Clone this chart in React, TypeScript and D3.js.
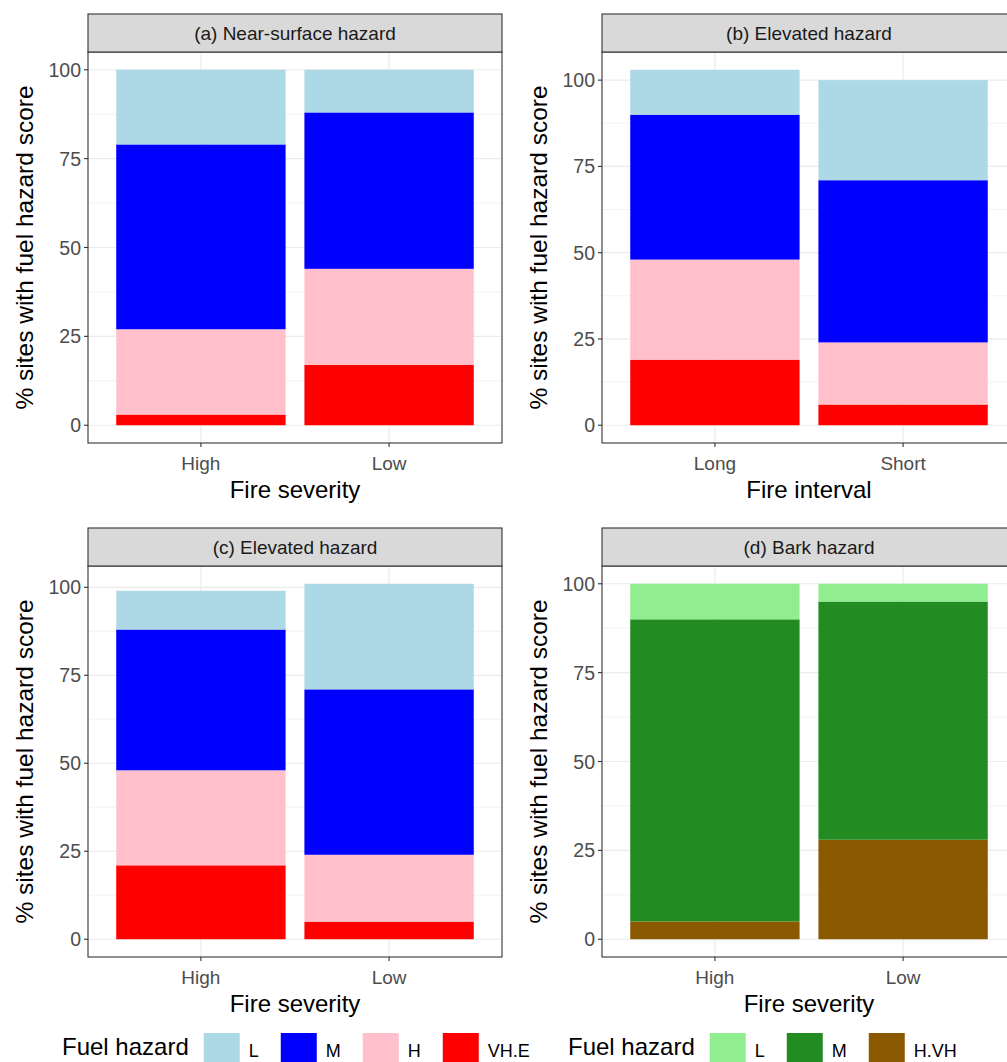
import React, { useRef, useEffect } from 'react';
import * as d3 from 'd3';

// categories
const severityCats = ['High', 'Low'];
const intervalCats = ['Long', 'Short'];

// stack keys, bottom to top
const hazardKeys = ['VH.E', 'H', 'M', 'L'];
const barkKeys = ['H.VH', 'M', 'L'];

// (a) near-surface hazard by fire severity
const nearSurfaceVHE = [3, 17];
const nearSurfaceH = [24, 27];
const nearSurfaceM = [52, 44];
const nearSurfaceL = [21, 12];

// (b) elevated hazard by fire interval
const elevIntervalVHE = [19, 6];
const elevIntervalH = [29, 18];
const elevIntervalM = [42, 47];
const elevIntervalL = [13, 29];

// (c) elevated hazard by fire severity
const elevSeverityVHE = [21, 5];
const elevSeverityH = [27, 19];
const elevSeverityM = [40, 47];
const elevSeverityL = [11, 30];

// (d) bark hazard by fire severity
const barkHVH = [5, 28];
const barkM = [85, 67];
const barkL = [10, 5];

const yTicks = [0, 25, 50, 75, 100];

const hazardColors: Record<string, string> = {
  L: '#ADD8E6', M: '#0000FF', H: '#FFC0CB', 'VH.E': '#FF0000',
};
const barkColors: Record<string, string> = {
  L: '#90EE90', M: '#228B22', 'H.VH': '#8B5A00',
};

const FONT = '"Liberation Sans", Arial, Helvetica, sans-serif';

type Panel = {
  title: string;
  xTitle: string;
  cats: string[];
  keys: string[];
  series: Record<string, number[]>;
  colors: Record<string, string>;
  x0: number; x1: number; top: number;
};

const App: React.FC = () => {
  const ref = useRef<SVGSVGElement>(null);

  useEffect(() => {
    if (!ref.current) return;
    const svg = d3.select(ref.current);
    svg.selectAll('*').remove();

    const panels: Panel[] = [
      { title: '(a) Near-surface hazard', xTitle: 'Fire severity', cats: severityCats, keys: hazardKeys,
        series: { 'VH.E': nearSurfaceVHE, H: nearSurfaceH, M: nearSurfaceM, L: nearSurfaceL },
        colors: hazardColors, x0: 88, x1: 502, top: 14 },
      { title: '(b) Elevated hazard', xTitle: 'Fire interval', cats: intervalCats, keys: hazardKeys,
        series: { 'VH.E': elevIntervalVHE, H: elevIntervalH, M: elevIntervalM, L: elevIntervalL },
        colors: hazardColors, x0: 602, x1: 1016, top: 14 },
      { title: '(c) Elevated hazard', xTitle: 'Fire severity', cats: severityCats, keys: hazardKeys,
        series: { 'VH.E': elevSeverityVHE, H: elevSeverityH, M: elevSeverityM, L: elevSeverityL },
        colors: hazardColors, x0: 88, x1: 502, top: 528 },
      { title: '(d) Bark hazard', xTitle: 'Fire severity', cats: severityCats, keys: barkKeys,
        series: { 'H.VH': barkHVH, M: barkM, L: barkL },
        colors: barkColors, x0: 602, x1: 1016, top: 528 },
    ];

    const stripH = 38;
    const plotH = 391;

    panels.forEach(p => {
      const g = svg.append('g');
      const pTop = p.top + stripH;
      const pBot = pTop + plotH;

      const rows = p.cats.map((c, i) => {
        const r: any = { cat: c };
        p.keys.forEach(k => { r[k] = p.series[k][i]; });
        return r;
      });
      const stacked = d3.stack<any>().keys(p.keys)(rows);
      const maxV = d3.max(stacked[stacked.length - 1], d => d[1]) as number;

      const x = d3.scalePoint<string>().domain(p.cats).range([p.x0, p.x1]).padding(0.6);
      const barW = x.step() * 0.9;
      const y = d3.scaleLinear().domain([-0.05 * maxV, maxV * 1.05]).range([pBot, pTop]);

      // grid
      const minor = [12.5, 37.5, 62.5, 87.5].filter(v => v < maxV * 1.05);
      g.selectAll('.minor').data(minor).enter().append('line')
        .attr('x1', p.x0).attr('x2', p.x1).attr('y1', d => y(d)).attr('y2', d => y(d))
        .attr('stroke', '#EBEBEB').attr('stroke-width', 0.6);
      g.selectAll('.major').data(yTicks).enter().append('line')
        .attr('x1', p.x0).attr('x2', p.x1).attr('y1', d => y(d)).attr('y2', d => y(d))
        .attr('stroke', '#EBEBEB').attr('stroke-width', 1.2);
      g.selectAll('.vmajor').data(p.cats).enter().append('line')
        .attr('x1', d => x(d)!).attr('x2', d => x(d)!).attr('y1', pTop).attr('y2', pBot)
        .attr('stroke', '#EBEBEB').attr('stroke-width', 1.2);

      // bars
      stacked.forEach(layer => {
        g.selectAll(null).data(layer).enter().append('rect')
          .attr('x', d => x(d.data.cat)! - barW / 2)
          .attr('width', barW)
          .attr('y', d => y(d[1]))
          .attr('height', d => y(d[0]) - y(d[1]))
          .attr('fill', p.colors[layer.key]);
      });

      // panel border
      g.append('rect').attr('x', p.x0).attr('y', pTop).attr('width', p.x1 - p.x0).attr('height', plotH)
        .attr('fill', 'none').attr('stroke', '#333333').attr('stroke-width', 1.1);

      // strip
      g.append('rect').attr('x', p.x0).attr('y', p.top).attr('width', p.x1 - p.x0).attr('height', stripH)
        .attr('fill', '#D9D9D9').attr('stroke', '#333333').attr('stroke-width', 1.1);
      g.append('text').attr('x', (p.x0 + p.x1) / 2).attr('y', p.top + stripH / 2 + 7)
        .attr('text-anchor', 'middle').attr('font-size', 19).attr('fill', '#1A1A1A').text(p.title);

      // y axis
      yTicks.forEach(t => {
        g.append('line').attr('x1', p.x0 - 4).attr('x2', p.x0).attr('y1', y(t)).attr('y2', y(t))
          .attr('stroke', '#333333').attr('stroke-width', 1.1);
        g.append('text').attr('x', p.x0 - 7).attr('y', y(t) + 7).attr('text-anchor', 'end')
          .attr('font-size', 19.5).attr('fill', '#4D4D4D').text(t);
      });

      // x axis
      p.cats.forEach(c => {
        g.append('line').attr('x1', x(c)!).attr('x2', x(c)!).attr('y1', pBot).attr('y2', pBot + 4)
          .attr('stroke', '#333333').attr('stroke-width', 1.1);
        g.append('text').attr('x', x(c)!).attr('y', pBot + 27).attr('text-anchor', 'middle')
          .attr('font-size', 19).attr('fill', '#4D4D4D').text(c);
      });

      // axis titles
      g.append('text').attr('x', (p.x0 + p.x1) / 2).attr('y', pBot + 55).attr('text-anchor', 'middle')
        .attr('font-size', 24).attr('fill', '#000').text(p.xTitle);
      g.append('text')
        .attr('transform', `translate(${p.x0 - 55},${(pTop + pBot) / 2}) rotate(-90)`)
        .attr('text-anchor', 'middle').attr('font-size', 24.5).attr('fill', '#000')
        .text('% sites with fuel hazard score');
    });

    // legends
    const legends = [
      { x: 62, keys: [...hazardKeys].reverse(), colors: hazardColors },
      { x: 568, keys: [...barkKeys].reverse(), colors: barkColors },
    ];
    const boxTop = 1033;
    const box = 36;
    legends.forEach(lg => {
      const g = svg.append('g');
      const title = g.append('text').attr('x', lg.x).attr('y', 1055)
        .attr('font-size', 24).attr('fill', '#000').text('Fuel hazard');
      let cx = lg.x + (title.node() as SVGTextElement).getComputedTextLength() + 15;
      lg.keys.forEach(k => {
        g.append('rect').attr('x', cx).attr('y', boxTop).attr('width', box).attr('height', box)
          .attr('fill', lg.colors[k]);
        const t = g.append('text').attr('x', cx + box + 9).attr('y', 1057)
          .attr('font-size', 18).attr('fill', '#000').text(k);
        cx += box + 9 + (t.node() as SVGTextElement).getComputedTextLength() + 22;
      });
    });
  }, []);

  return (
    <svg ref={ref} width={1007} height={1062}
      style={{ position: 'absolute', left: 0, top: 0, background: '#fff', fontFamily: FONT }} />
  );
};

export default App;
